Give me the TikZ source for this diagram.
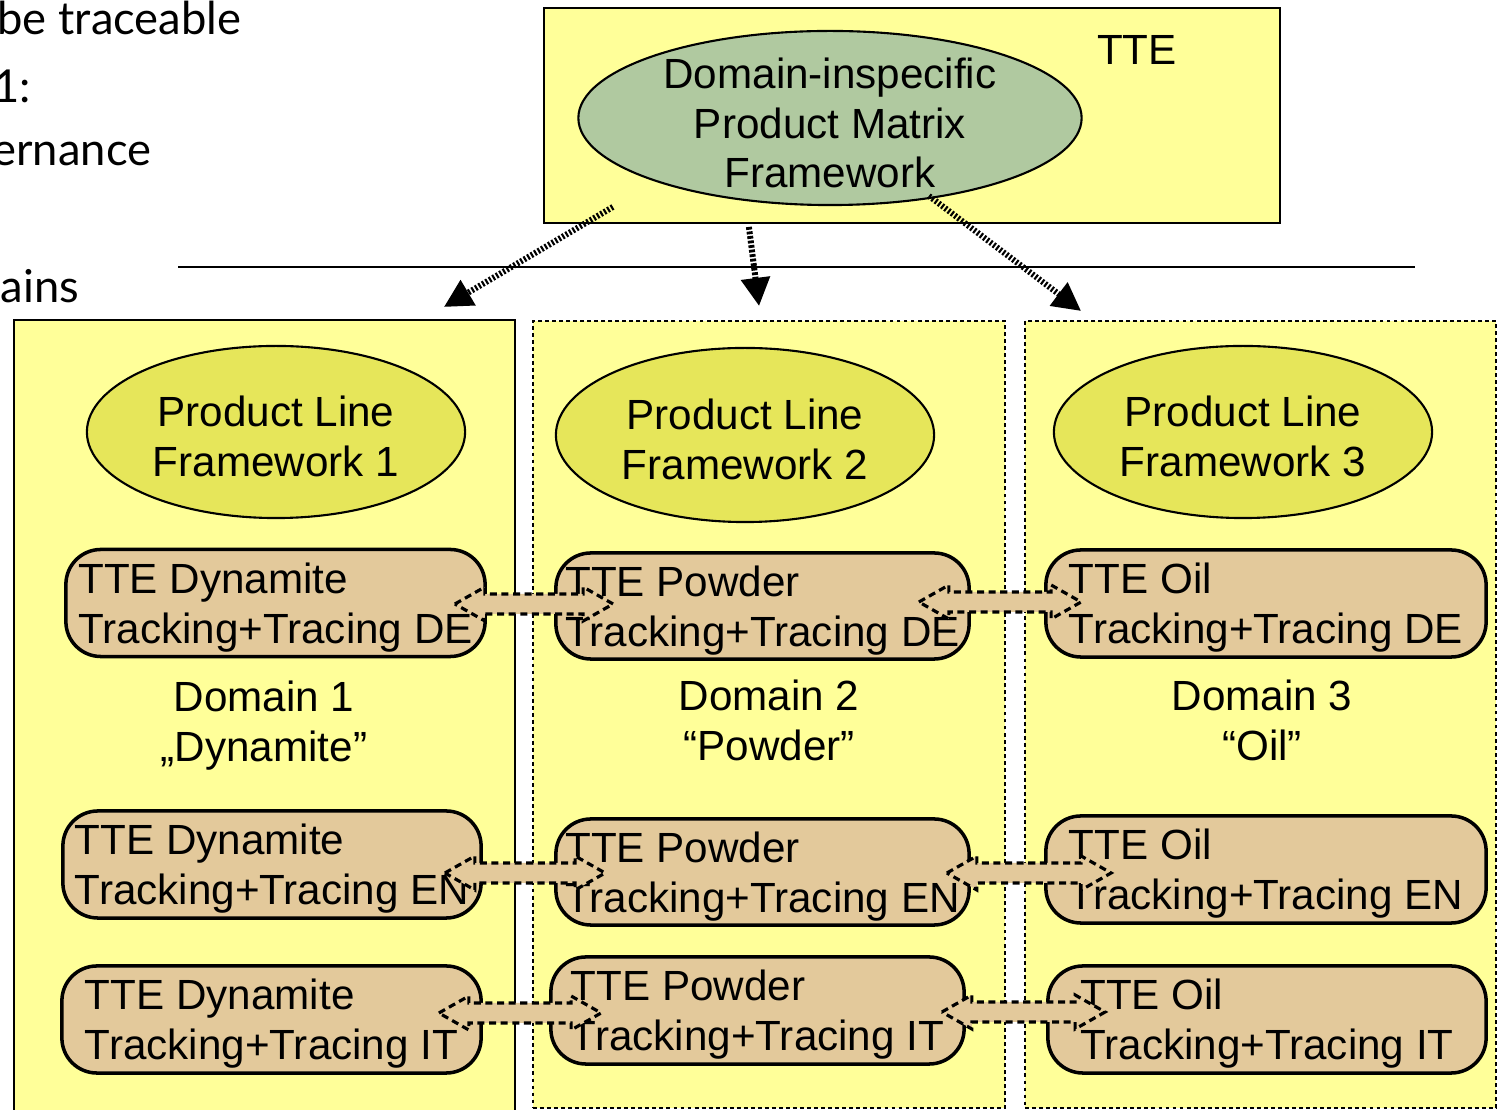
\documentclass[tikz,border=0pt]{standalone}
\usepackage{fontspec}
\setmainfont{Liberation Sans}
\newfontfamily\latofont{Lato}
\usepackage{tikz}
\usetikzlibrary{arrows.meta, positioning, calc, shapes.geometric}

\definecolor{paleyellow}{RGB}{255,255,153}
\definecolor{sagegreen}{RGB}{176,201,160}
\definecolor{plfyellow}{RGB}{230,230,90}
\definecolor{ttetan}{RGB}{227,201,155}

\newcommand{\linkarrow}[2]{%
  \draw[linkarrow] (#1) -- ++(30,-17) -- ++(0,7) -- ($(#2)+(-30,-10)$) -- ++(0,-7) -- (#2)
    -- ++(-30,17) -- ++(0,-7) -- ($(#1)+(30,10)$) -- ++(0,7) -- cycle;}

\begin{document}
\begin{tikzpicture}[x=0.01cm, y=-0.01cm,
  every node/.style={font=\fontsize{12}{14.2}\selectfont},
  sidetext/.style={anchor=base east, inner sep=0pt, font=\latofont\fontsize{12.9}{15}\selectfont},
  topbox/.style={draw, line width=0.5pt, fill=paleyellow},
  dombox/.style={draw, line width=0.45pt, fill=paleyellow},
  dotbox/.style={dombox, dash pattern=on 1.1pt off 0.9pt},
  plf/.style={ellipse, draw, line width=0.6pt, fill=plfyellow, inner sep=0pt, align=center, text height=25.4pt, text depth=0pt, minimum width=3.78cm, minimum height=1.72cm},
  tteb/.style={draw, line width=1pt, fill=ttetan, rounded corners=0.35cm, inner sep=0pt, align=left, text depth=0pt, minimum height=1.07cm},
  hatch/.style={line width=1.7pt, dash pattern=on 0.6pt off 0.55pt, -{Triangle[length=8pt,width=8pt]}},
  linkarrow/.style={fill=ttetan, line width=0.9pt, dash pattern=on 2pt off 1.3pt}]
\useasboundingbox (0,0) rectangle (1499,1110);
\clip (0,0) rectangle (1499,1110);

% slide text cut off at the left
\node (txt1) at (242,35) [sidetext] {be traceable};
\node (txt2) at (32,103) [sidetext] {1:};
\node (txt3) at (152,166) [sidetext] {ernance};
\node (txt4) at (80,303) [sidetext] {ains};
\draw (178,267) -- (1415,267);

% top level
\node (tte) at (912,115.5) [topbox, minimum width=7.36cm, minimum height=2.15cm] {};
\node (ttelabel) at (1137,50) {TTE};
\node (matrix) at (830,118) [ellipse, draw, line width=0.6pt, fill=sagegreen, inner xsep=0pt, inner ysep=-0.25cm, align=center, text height=39.8pt, text depth=0pt, minimum width=5.03cm, minimum height=1.74cm] {Domain-inspecific\\Product Matrix\\Framework};

% domains
\node (dom1) at (264.5,722.5) [dombox, minimum width=5.01cm, minimum height=8.05cm] {};
\node (dom2) at (769,714.5) [dotbox, minimum width=4.72cm, minimum height=7.87cm] {};
\node (dom3) at (1260.5,714.5) [dotbox, minimum width=4.71cm, minimum height=7.87cm] {};

\draw[hatch] ($(tte.south west)+(70,-17)$) -- ($(dom1.north east)+(-72,-12)$);
\draw[hatch, dash pattern=on 0.8pt off 0.5pt] ($(tte.south west)+(206,3)$) -- ($(dom2.north west)+(227,-14)$);
\draw[hatch] ($(tte.south west)+(386,-28)$) -- ($(dom3.north west)+(57,-9)$);

\node (plf1) at (276,432) [plf] {Product Line\\Framework 1};
\node (plf2) at (745,435) [plf, minimum height=1.74cm] {Product Line\\Framework 2};
\node (plf3) at (1243,432) [plf] {Product Line\\Framework 3};

\node (dn1) at (264,721) [align=center, text depth=0pt] {Domain 1\\„Dynamite”};
\node (dn2) at (769,720) [align=center] {Domain 2\\“Powder”};
\node (dn3) at (1262,720) [align=center] {Domain 3\\“Oil”};

% tracking and tracing services
\node (d1) at (275.5,603) [tteb, minimum width=4.19cm] {TTE Dynamite\\Tracking+Tracing DE};
\node (p1) at (762.5,606) [tteb, minimum width=4.13cm, minimum height=1.06cm] {TTE Powder\\Tracking+Tracing DE};
\node (o1) at (1266,603.5) [tteb, minimum width=4.40cm] {TTE Oil\\Tracking+Tracing DE};
\node (d2) at (272,864.5) [tteb, minimum width=4.18cm] {TTE Dynamite\\Tracking+Tracing EN};
\node (p2) at (762.5,872) [tteb, minimum width=4.13cm, minimum height=1.06cm] {TTE Powder\\Tracking+Tracing EN};
\node (o2) at (1266,869.5) [tteb, minimum width=4.40cm] {TTE Oil\\Tracking+Tracing EN};
\node (d3) at (271.5,1019.5) [tteb, minimum width=4.19cm] {TTE Dynamite\\Tracking+Tracing IT};
\node (p3) at (757.5,1010.5) [tteb, minimum width=4.13cm] {TTE Powder\\Tracking+Tracing IT};
\node (o3) at (1267,1019.5) [tteb, minimum width=4.38cm] {TTE Oil\\Tracking+Tracing IT};

% links between the languages
\coordinate (a1) at ($(d1.east)+(-32,1)$);
\coordinate (b1) at ($(p1.west)+(59,-2)$);
\coordinate (a2) at ($(p1.east)+(-52,-4)$);
\coordinate (b2) at ($(o1.west)+(37,-1.5)$);
\coordinate (a3) at ($(d2.east)+(-38,8.5)$);
\coordinate (b3) at ($(p2.west)+(51,1)$);
\coordinate (a4) at ($(p2.east)+(-24,1)$);
\coordinate (b4) at ($(o2.west)+(67,3.5)$);
\coordinate (a5) at ($(d3.east)+(-44,-6.5)$);
\coordinate (b5) at ($(p3.west)+(52,2.5)$);
\coordinate (a6) at ($(p3.east)+(-24,1.5)$);
\coordinate (b6) at ($(o3.west)+(59,-7.5)$);
\linkarrow{a1}{b1}
\linkarrow{a2}{b2}
\linkarrow{a3}{b3}
\linkarrow{a4}{b4}
\linkarrow{a5}{b5}
\linkarrow{a6}{b6}
\end{tikzpicture}
\end{document}
